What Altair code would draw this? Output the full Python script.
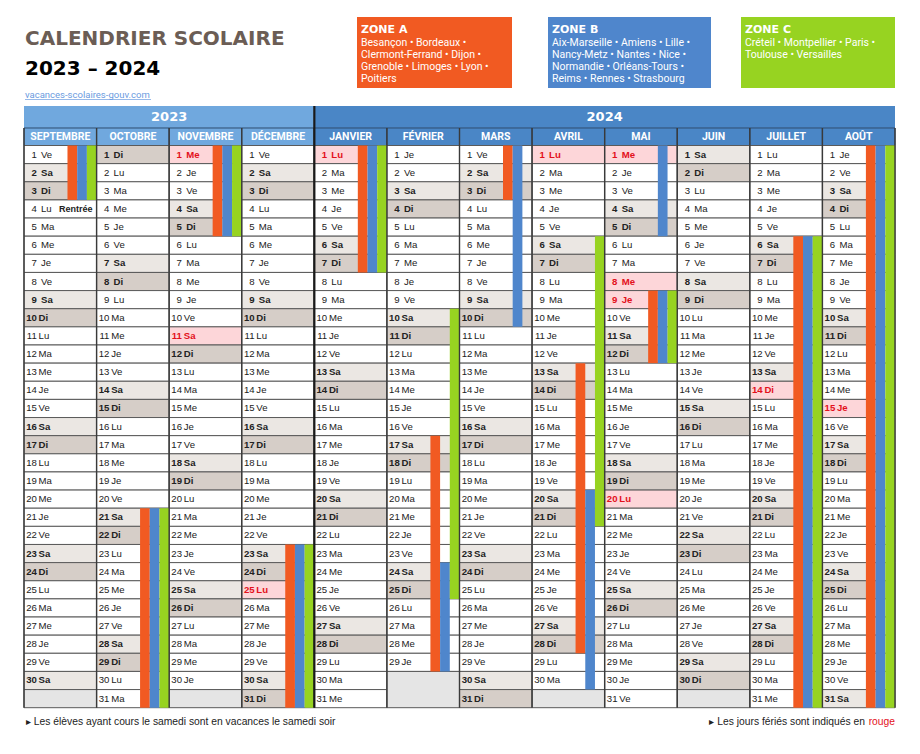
import datetime as dt
import altair as alt
import pandas as pd

# ---------------- data ----------------
MONTHS = ["SEPTEMBRE", "OCTOBRE", "NOVEMBRE", "DÉCEMBRE", "JANVIER", "FÉVRIER",
          "MARS", "AVRIL", "MAI", "JUIN", "JUILLET", "AOÛT"]
MONTH_YEARS = [2023, 2023, 2023, 2023, 2024, 2024, 2024, 2024, 2024, 2024, 2024, 2024]
MONTH_NUMBERS = [9, 10, 11, 12, 1, 2, 3, 4, 5, 6, 7, 8]
YEARS = ["2023", "2024"]
YEAR_FIRST_MONTH = [0, 4]
YEAR_LAST_MONTH = [4, 12]
WEEKDAY_ABBR = ["Lu", "Ma", "Me", "Je", "Ve", "Sa", "Di"]
HOLIDAYS = ["2023-11-01", "2023-11-11", "2023-12-25", "2024-01-01", "2024-04-01",
            "2024-05-01", "2024-05-08", "2024-05-09", "2024-05-20", "2024-07-14",
            "2024-08-15"]
RENTREE = "2023-09-04"

ZONE_NAMES = ["ZONE A", "ZONE B", "ZONE C"]
ZONE_COLORS = ["#f15a22", "#4f86cc", "#97d321"]
ZONE_A_VAC = [("2023-09-01", "2023-09-03"), ("2023-10-21", "2023-11-05"),
              ("2023-12-23", "2024-01-07"), ("2024-02-17", "2024-03-03"),
              ("2024-04-13", "2024-04-28"), ("2024-05-09", "2024-05-12"),
              ("2024-07-06", "2024-08-31")]
ZONE_B_VAC = [("2023-09-01", "2023-09-03"), ("2023-10-21", "2023-11-05"),
              ("2023-12-23", "2024-01-07"), ("2024-02-24", "2024-03-10"),
              ("2024-04-20", "2024-05-05"), ("2024-05-09", "2024-05-12"),
              ("2024-07-06", "2024-08-31")]
ZONE_C_VAC = [("2023-09-01", "2023-09-03"), ("2023-10-21", "2023-11-05"),
              ("2023-12-23", "2024-01-07"), ("2024-02-10", "2024-02-25"),
              ("2024-04-06", "2024-04-21"), ("2024-05-09", "2024-05-12"),
              ("2024-07-06", "2024-08-31")]
ZONE_CITIES = [
    ["Besançon • Bordeaux •", "Clermont-Ferrand • Dijon •", "Grenoble • Limoges • Lyon •", "Poitiers"],
    ["Aix-Marseille • Amiens • Lille •", "Nancy-Metz • Nantes • Nice •", "Normandie • Orléans-Tours •", "Reims • Rennes • Strasbourg"],
    ["Créteil • Montpellier • Paris •", "Toulouse • Versailles"],
]

# ---------------- layout / style ----------------
COL_PX = 72.58
NUM_OFF = 12.8 / COL_PX
ABBR_OFF_1 = 17.0 / COL_PX
ABBR_OFF_2 = 14.6 / COL_PX
BAR_W = 9.7 / COL_PX
YEAR_TOP, MONTH_TOP = -2.18, -0.965
X_SCALE = alt.Scale(domain=[0, 12], range=[16, 887])
Y_SCALE = alt.Scale(domain=[0, 31], range=[137.5, 699.7])
BG = {"wk": "#ffffff", "sa": "#ebe7e3", "di": "#d6cec8", "hol": "#fdd6d9"}
HEAD_COLORS = ["#70a8de", "#4a86c6"]
CELL_FONT = "Liberation Sans"
CELL_SIZE = 9.6
HEAD_FONT = "Roboto"
TITLE_FONT = "DejaVu Sans"

# ---------------- tables ----------------
month_index = {(y, m): i for i, (y, m) in enumerate(zip(MONTH_YEARS, MONTH_NUMBERS))}
cells, empties = [], []
for mi, (yr, mo) in enumerate(zip(MONTH_YEARS, MONTH_NUMBERS)):
    last = 0
    for d in range(1, 32):
        try:
            date = dt.date(yr, mo, d)
        except ValueError:
            continue
        last = d
        wd = date.weekday()
        if date.isoformat() in HOLIDAYS:
            kind = "hol"
        elif wd == 5:
            kind = "sa"
        elif wd == 6:
            kind = "di"
        else:
            kind = "wk"
        cells.append(dict(x=mi, x2=mi + 1, y=d - 1, y2=d, ymid=d - 0.5, day=str(d),
                          abbr=WEEKDAY_ABBR[wd], kind=kind, fill=BG[kind],
                          xn=mi + NUM_OFF, xa=mi + (ABBR_OFF_1 if d < 10 else ABBR_OFF_2)))
    if last < 31:
        empties.append(dict(x=mi, x2=mi + 1, y=last, y2=31))
cells = pd.DataFrame(cells)
empties = pd.DataFrame(empties)

bars = []
for z, periods in enumerate([ZONE_A_VAC, ZONE_B_VAC, ZONE_C_VAC]):
    for s, e in periods:
        cur, end = dt.date.fromisoformat(s), dt.date.fromisoformat(e)
        while cur <= end:
            nxt = dt.date(cur.year + (cur.month == 12), cur.month % 12 + 1, 1)
            seg_end = min(end, nxt - dt.timedelta(days=1))
            mi = month_index[(cur.year, cur.month)]
            bars.append(dict(x=mi + 1 - (3 - z) * BAR_W, x2=mi + 1 - (2 - z) * BAR_W,
                             y=cur.day - 1, y2=seg_end.day, fill=ZONE_COLORS[z]))
            cur = seg_end + dt.timedelta(days=1)
bars = pd.DataFrame(bars)

year_head = pd.DataFrame(dict(x=YEAR_FIRST_MONTH, x2=YEAR_LAST_MONTH, y=[YEAR_TOP] * 2,
                              y2=[MONTH_TOP] * 2, fill=HEAD_COLORS, label=YEARS,
                              xm=[(a + b) / 2 for a, b in zip(YEAR_FIRST_MONTH, YEAR_LAST_MONTH)],
                              ym=[(YEAR_TOP + MONTH_TOP) / 2] * 2))
month_head = pd.DataFrame(dict(x=list(range(12)), x2=list(range(1, 13)), y=[MONTH_TOP] * 12,
                               y2=[0] * 12, label=MONTHS, xm=[i + 0.5 for i in range(12)],
                               ym=[MONTH_TOP / 2] * 12,
                               fill=[HEAD_COLORS[0] if y == 2023 else HEAD_COLORS[1] for y in MONTH_YEARS]))
seps = pd.DataFrame(dict(x=list(range(13)), y=[MONTH_TOP] * 13, y2=[31] * 13))
rentree_d = dt.date.fromisoformat(RENTREE)
rentree = pd.DataFrame(dict(x=[month_index[(rentree_d.year, rentree_d.month)] + 68.5 / COL_PX],
                            y=[rentree_d.day - 0.5], label=["Rentrée"]))

def X(f): return alt.X(f"{f}:Q", scale=X_SCALE, axis=None)
def Y(f): return alt.Y(f"{f}:Q", scale=Y_SCALE, axis=None)
def rects(df, **kw):
    return alt.Chart(df).mark_rect(**kw).encode(x=X("x"), x2="x2:Q", y=Y("y"), y2="y2:Q",
                                                 fill=alt.Fill("fill:N", scale=None))

layers = []
layers.append(rects(year_head))
layers.append(alt.Chart(year_head).mark_text(font=TITLE_FONT, fontWeight="bold", fontSize=13,
                                             color="white", baseline="middle")
              .encode(x=X("xm"), y=Y("ym"), text="label:N"))
layers.append(rects(month_head, stroke="#2f4d70", strokeWidth=1))
layers.append(alt.Chart(month_head).mark_text(font=HEAD_FONT, fontWeight="bold", fontSize=10.5,
                                              color="white", baseline="middle")
              .encode(x=X("xm"), y=Y("ym"), text="label:N"))
layers.append(rects(cells, stroke="#5a5a5a", strokeWidth=1))
layers.append(alt.Chart(empties).mark_rect(fill="#e5e5e5", stroke="#5a5a5a", strokeWidth=1)
              .encode(x=X("x"), x2="x2:Q", y=Y("y"), y2="y2:Q"))
layers.append(rects(bars))
for kinds, weight, color in [(["wk"], "normal", "#222222"), (["sa", "di"], "bold", "#222222"),
                             (["hol"], "bold", "#e3101b")]:
    sub = cells[cells.kind.isin(kinds)]
    layers.append(alt.Chart(sub).mark_text(font=CELL_FONT, fontSize=CELL_SIZE, fontWeight=weight,
                                           color=color, align="right", baseline="middle")
                  .encode(x=X("xn"), y=Y("ymid"), text="day:N"))
    layers.append(alt.Chart(sub).mark_text(font=CELL_FONT, fontSize=CELL_SIZE, fontWeight=weight,
                                           color=color, align="left", baseline="middle")
                  .encode(x=X("xa"), y=Y("ymid"), text="abbr:N"))
layers.append(alt.Chart(rentree).mark_text(font=CELL_FONT, fontSize=9, fontWeight="bold",
                                           color="#222222", align="right", baseline="middle")
              .encode(x=X("x"), y=Y("y"), text="label:N"))
layers.append(alt.Chart(seps).mark_rule(color="#3a3a3a", strokeWidth=1.4)
              .encode(x=X("x"), y=Y("y"), y2="y2:Q"))
layers.append(alt.Chart(pd.DataFrame(dict(x=[4], y=[YEAR_TOP], y2=[31])))
              .mark_rule(color="#1a1a1a", strokeWidth=2.2).encode(x=X("x"), y=Y("y"), y2="y2:Q"))

BASE = alt.Chart(pd.DataFrame({"k": [0]}))
def label(txt, x, y, size, color="#222222", weight="normal", font="Roboto", align="left"):
    return BASE.mark_text(text=txt, align=align, baseline="alphabetic", fontSize=size,
                          font=font, fontWeight=weight, color=color).encode(
        x=alt.value(x), y=alt.value(y))

layers.append(label("CALENDRIER SCOLAIRE", 17, 37, 20, "#6b5d55", "bold", TITLE_FONT))
layers.append(label("2023 – 2024", 17, 67, 20, "#000000", "bold", TITLE_FONT))
layers.append(label("vacances-scolaires-gouv.com", 17, 90, 9.5, "#6a9be0"))
layers.append(BASE.mark_rule(color="#6a9be0", strokeWidth=0.7).encode(
    x=alt.value(17), x2=alt.value(143), y=alt.value(91.5)))

BOX_X = [(349, 504), (540, 703), (733, 887)]
for (x0, x1), name, col, lines in zip(BOX_X, ZONE_NAMES, ZONE_COLORS, ZONE_CITIES):
    layers.append(BASE.mark_rect(color=col).encode(x=alt.value(x0), x2=alt.value(x1),
                                                    y=alt.value(9), y2=alt.value(80)))
    layers.append(label(name, x0 + 4, 25, 11, "white", "bold", TITLE_FONT))
    for i, ln in enumerate(lines):
        layers.append(label(ln, x0 + 4, 38 + 12 * i, 10.5, "white"))

layers.append(label("▸ Les élèves ayant cours le samedi sont en vacances le samedi soir",
                    18, 717, 10.3, "#222222", font=CELL_FONT))
layers.append(label("▸ Les jours fériés sont indiqués en", 857, 717, 10.3, "#222222",
                    font=CELL_FONT, align="right"))
layers.append(label("rouge", 887, 717, 10.3, "#e3101b", font=CELL_FONT, align="right"))

chart = alt.layer(*layers).properties(
    width=904, height=738, padding=0, autosize=alt.AutoSizeParams(type="none"),
    background="white"
).configure_view(stroke=None)

chart.save("out.html", embed_options={"renderer": "svg", "actions": False})
